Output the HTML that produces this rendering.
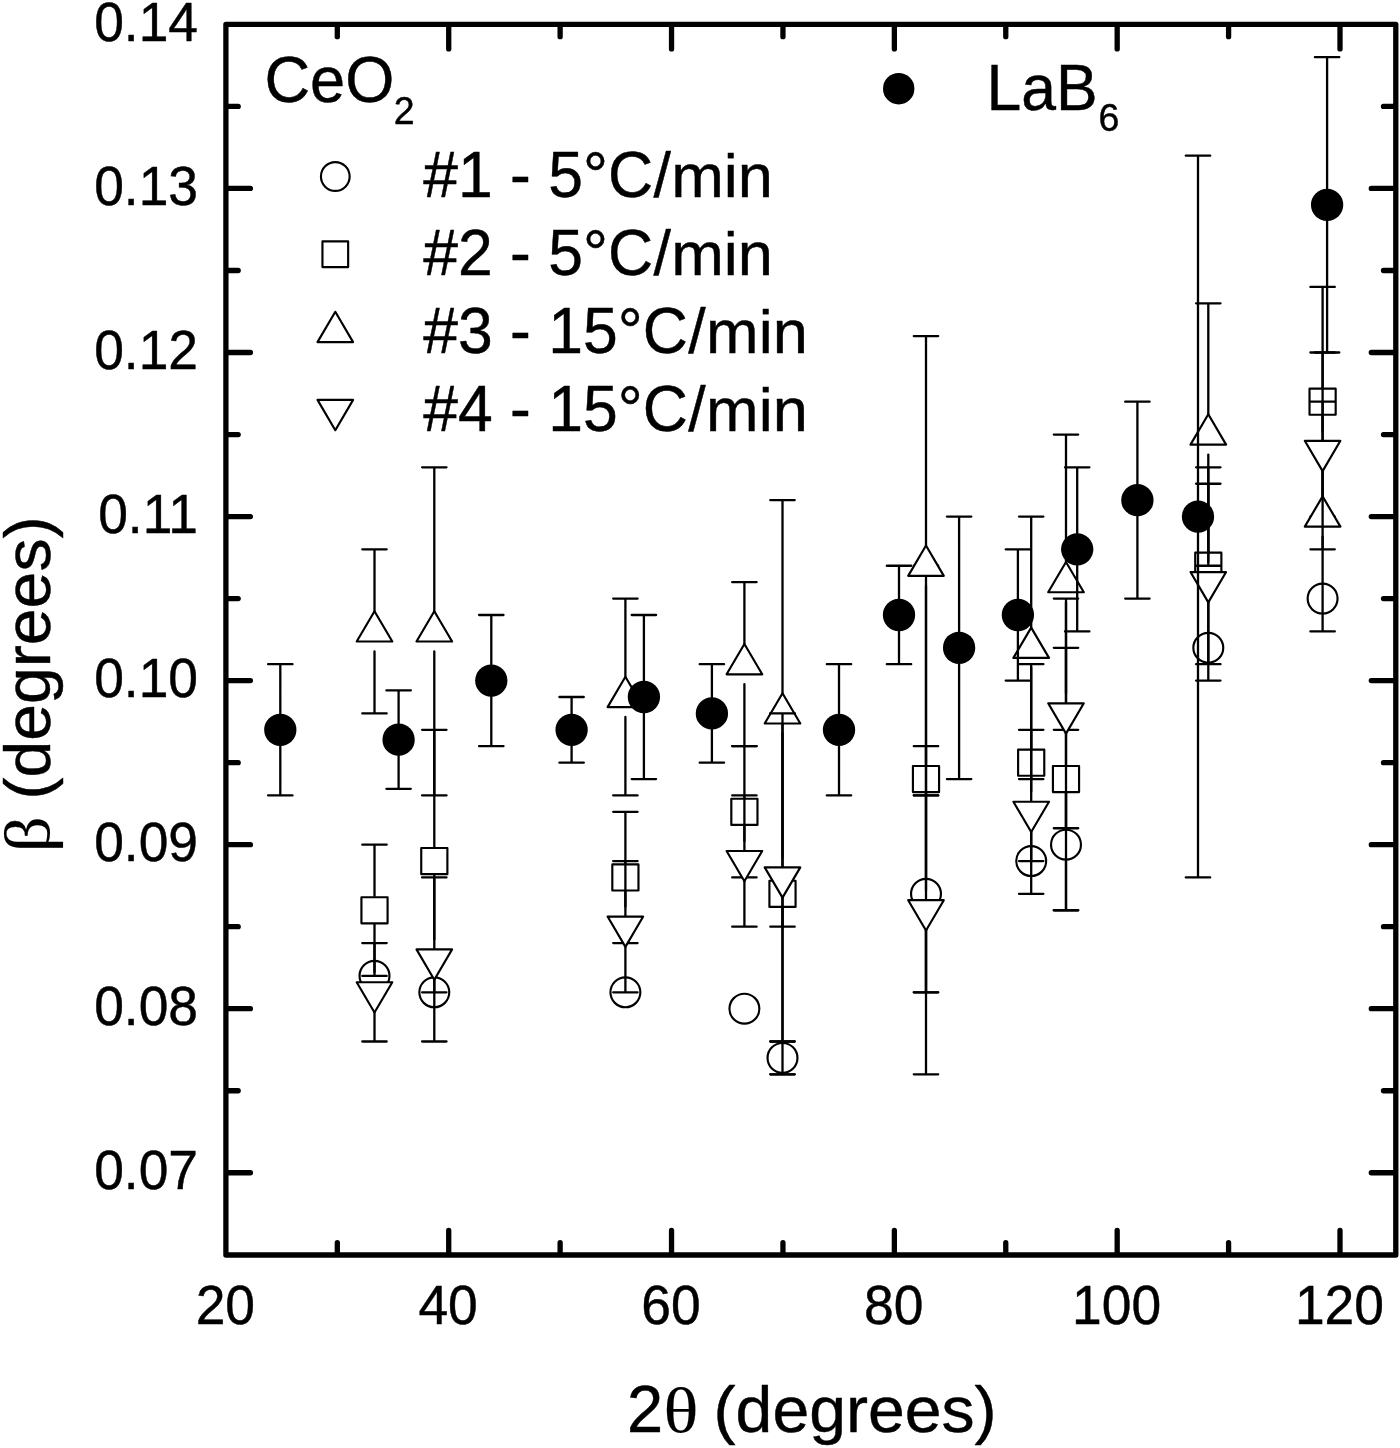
<!DOCTYPE html>
<html lang="en"><head><meta charset="utf-8"><title>FWHM vs 2theta</title>
<style>html,body{margin:0;padding:0;background:#fff}svg{display:block;filter:grayscale(1)}text{font-family:"Liberation Sans",sans-serif;fill:#000;stroke:#000;stroke-width:0.45px;stroke-linejoin:round}.sym{font-family:"Liberation Serif","DejaVu Serif",serif;stroke-width:0.15px}</style></head><body>
<svg width="1400" height="1448" viewBox="0 0 1400 1448" role="img" aria-label="FWHM versus 2-theta for CeO2 runs and LaB6 standard">
<rect x="0" y="0" width="1400" height="1448" fill="#fff"/>
<g id="run1">
<g fill="#fff" stroke="#000" stroke-width="2.15" stroke-linejoin="round"><circle cx="374.5" cy="975.89" r="14.95"/><circle cx="434.3" cy="992.3" r="14.95"/><circle cx="625.4" cy="992.3" r="14.95"/><circle cx="744.4" cy="1008.7" r="14.95"/><circle cx="782.5" cy="1057.92" r="14.95"/><circle cx="926" cy="893.87" r="14.95"/><circle cx="1031.2" cy="861.06" r="14.95"/><circle cx="1066" cy="844.65" r="14.95"/><circle cx="1208.3" cy="647.79" r="14.95"/><circle cx="1322.6" cy="598.58" r="14.95"/></g>
<path d="M782.5 1041.92V1041.51M782.5 1073.92V1074.32M770.3 1041.51H794.7M770.3 1074.32H794.7M926 877.87V795.44M926 909.87V992.3M913.8 795.44H938.2M913.8 992.3H938.2M1066 828.65V779.03M1066 860.65V910.27M1053.8 779.03H1078.2M1053.8 910.27H1078.2" fill="none" stroke="#000" stroke-width="2.3" stroke-linecap="round"/>
</g>
<g id="run2">
<g fill="#fff" stroke="#000" stroke-width="2.15" stroke-linejoin="round"><rect x="361.43" y="897.2" width="26.15" height="26.15"/><rect x="421.23" y="847.98" width="26.15" height="26.15"/><rect x="612.32" y="864.39" width="26.15" height="26.15"/><rect x="731.32" y="798.77" width="26.15" height="26.15"/><rect x="769.42" y="880.79" width="26.15" height="26.15"/><rect x="912.92" y="765.96" width="26.15" height="26.15"/><rect x="1018.12" y="749.55" width="26.15" height="26.15"/><rect x="1052.92" y="765.96" width="26.15" height="26.15"/><rect x="1195.22" y="552.69" width="26.15" height="26.15"/><rect x="1309.52" y="388.64" width="26.15" height="26.15"/></g>
<path d="M374.5 896.12V844.65M374.5 924.42V975.89M362.3 844.65H386.7M362.3 975.89H386.7M434.3 846.91V729.82M434.3 875.21V992.3M422.1 729.82H446.5M422.1 992.3H446.5M625.4 863.31V811.84M625.4 891.61V943.08M613.2 811.84H637.6M613.2 943.08H637.6M744.4 797.69V746.22M744.4 825.99V877.46M732.2 746.22H756.6M732.2 877.46H756.6M782.5 879.72V713.41M782.5 908.02V1074.32M770.3 713.41H794.7M770.3 1074.32H794.7M926 764.88V565.77M926 793.18V992.3M913.8 565.77H938.2M913.8 992.3H938.2M1031.2 748.48V664.2M1031.2 776.78V861.06M1019 664.2H1043.4M1019 861.06H1043.4M1066 764.88V647.79M1066 793.18V910.27M1053.8 647.79H1078.2M1053.8 910.27H1078.2M1208.3 551.62V467.34M1208.3 579.92V664.2M1196.1 467.34H1220.5M1196.1 664.2H1220.5M1322.6 387.57V286.88M1322.6 415.87V516.55M1310.4 286.88H1334.8M1310.4 516.55H1334.8" fill="none" stroke="#000" stroke-width="2.3" stroke-linecap="round"/>
</g>
<g id="run3">
<g fill="#fff" stroke="#000" stroke-width="2.15" stroke-linejoin="round"><path d="M374.5 611.19L392.3 641.49H356.7Z"/><path d="M434.3 611.19L452.1 641.49H416.5Z"/><path d="M625.4 676.81L643.2 707.11H607.6Z"/><path d="M744.4 644L762.2 674.3H726.6Z"/><path d="M782.5 693.21L800.3 723.51H764.7Z"/><path d="M926 545.57L943.8 575.87H908.2Z"/><path d="M1031.2 627.59L1049 657.89H1013.4Z"/><path d="M1066 561.97L1083.8 592.27H1048.2Z"/><path d="M1208.3 414.33L1226.1 444.63H1190.5Z"/><path d="M1322.6 496.35L1340.4 526.65H1304.8Z"/></g>
<path d="M374.5 611.39V549.36M374.5 651.39V713.41M362.3 549.36H386.7M362.3 713.41H386.7M434.3 611.39V467.34M434.3 651.39V795.44M422.1 467.34H446.5M422.1 795.44H446.5M625.4 677.01V598.58M625.4 717.01V795.44M613.2 598.58H637.6M613.2 795.44H637.6M744.4 644.2V582.17M744.4 684.2V746.22M732.2 582.17H756.6M732.2 746.22H756.6M782.5 693.41V500.15M782.5 733.41V926.68M770.3 500.15H794.7M770.3 926.68H794.7M926 545.77V336.1M926 585.77V795.44M913.8 336.1H938.2M913.8 795.44H938.2M1031.2 627.79V516.55M1031.2 667.79V779.03M1019 516.55H1043.4M1019 779.03H1043.4M1066 562.17V434.53M1066 602.17V729.82M1053.8 434.53H1078.2M1053.8 729.82H1078.2M1208.3 414.53V303.29M1208.3 454.53V565.76M1196.1 303.29H1220.5M1196.1 565.76H1220.5M1322.6 496.55V401.72M1322.6 536.55V631.39M1310.4 401.72H1334.8M1310.4 631.39H1334.8" fill="none" stroke="#000" stroke-width="2.3" stroke-linecap="round"/>
</g>
<g id="run4">
<g fill="#fff" stroke="#000" stroke-width="2.15" stroke-linejoin="round"><path d="M374.5 1012.5L392.3 982.2H356.7Z"/><path d="M434.3 979.69L452.1 949.39H416.5Z"/><path d="M625.4 946.88L643.2 916.58H607.6Z"/><path d="M744.4 881.26L762.2 850.96H726.6Z"/><path d="M782.5 897.66L800.3 867.36H764.7Z"/><path d="M926 930.47L943.8 900.17H908.2Z"/><path d="M1031.2 832.04L1049 801.74H1013.4Z"/><path d="M1066 733.61L1083.8 703.31H1048.2Z"/><path d="M1208.3 602.37L1226.1 572.07H1190.5Z"/><path d="M1322.6 471.13L1340.4 440.83H1304.8Z"/></g>
<path d="M374.5 972.3V943.08M374.5 1012.3V1041.51M362.3 943.08H386.7M362.3 1041.51H386.7M434.3 939.49V877.46M434.3 979.49V1041.51M422.1 877.46H446.5M422.1 1041.51H446.5M625.4 906.68V861.06M625.4 946.68V992.3M613.2 861.06H637.6M613.2 992.3H637.6M744.4 841.06V795.44M744.4 881.06V926.68M732.2 795.44H756.6M732.2 926.68H756.6M782.5 857.46V713.41M782.5 897.46V1041.51M770.3 713.41H794.7M770.3 1041.51H794.7M926 890.27V746.22M926 930.27V1074.32M913.8 746.22H938.2M913.8 1074.32H938.2M1031.2 791.84V729.82M1031.2 831.84V893.87M1019 729.82H1043.4M1019 893.87H1043.4M1066 693.41V598.58M1066 733.41V828.25M1053.8 598.58H1078.2M1053.8 828.25H1078.2M1208.3 562.17V483.74M1208.3 602.17V680.6M1196.1 483.74H1220.5M1196.1 680.6H1220.5M1322.6 430.93V352.5M1322.6 470.93V549.36M1310.4 352.5H1334.8M1310.4 549.36H1334.8" fill="none" stroke="#000" stroke-width="2.3" stroke-linecap="round"/>
</g>
<g id="lab6">
<g fill="#000"><circle cx="280.3" cy="729.82" r="16.15"/><circle cx="398.6" cy="739.66" r="16.15"/><circle cx="491.3" cy="680.6" r="16.15"/><circle cx="571.6" cy="729.82" r="16.15"/><circle cx="643.9" cy="697.01" r="16.15"/><circle cx="711.9" cy="713.41" r="16.15"/><circle cx="839" cy="729.82" r="16.15"/><circle cx="899" cy="614.98" r="16.15"/><circle cx="959.1" cy="647.79" r="16.15"/><circle cx="1017.9" cy="614.98" r="16.15"/><circle cx="1077.2" cy="549.36" r="16.15"/><circle cx="1137.4" cy="500.15" r="16.15"/><circle cx="1198" cy="516.55" r="16.15"/><circle cx="1327.1" cy="204.86" r="16.15"/></g>
<path d="M280.3 713.82V664.2M280.3 745.82V795.44M268.1 664.2H292.5M268.1 795.44H292.5M398.6 723.66V690.44M398.6 755.66V788.87M386.4 690.44H410.8M386.4 788.87H410.8M491.3 664.6V614.98M491.3 696.6V746.22M479.1 614.98H503.5M479.1 746.22H503.5M571.6 713.82V697.01M571.6 745.82V762.63M559.4 697.01H583.8M559.4 762.63H583.8M643.9 681.01V614.98M643.9 713.01V779.03M631.7 614.98H656.1M631.7 779.03H656.1M711.9 697.41V664.2M711.9 729.41V762.63M699.7 664.2H724.1M699.7 762.63H724.1M839 713.82V664.2M839 745.82V795.44M826.8 664.2H851.2M826.8 795.44H851.2M899 598.98V565.77M899 630.98V664.2M886.8 565.77H911.2M886.8 664.2H911.2M959.1 631.79V516.55M959.1 663.79V779.03M946.9 516.55H971.3M946.9 779.03H971.3M1017.9 598.98V549.36M1017.9 630.98V680.6M1005.7 549.36H1030.1M1005.7 680.6H1030.1M1077.2 533.36V467.34M1077.2 565.36V631.39M1065 467.34H1089.4M1065 631.39H1089.4M1137.4 484.15V401.72M1137.4 516.15V598.58M1125.2 401.72H1149.6M1125.2 598.58H1149.6M1198 500.55V155.64M1198 532.55V877.46M1185.8 155.64H1210.2M1185.8 877.46H1210.2M1327.1 188.86V57.21M1327.1 220.86V352.5M1314.9 57.21H1339.3M1314.9 352.5H1339.3" fill="none" stroke="#000" stroke-width="2.3" stroke-linecap="round"/>
</g>
<path d="M337.31 1254V1242.7M337.31 25.4V36.7M448.72 1254V1230.5M448.72 25.4V48.9M560.13 1254V1242.7M560.13 25.4V36.7M671.54 1254V1230.5M671.54 25.4V48.9M782.95 1254V1242.7M782.95 25.4V36.7M894.36 1254V1230.5M894.36 25.4V48.9M1005.77 1254V1242.7M1005.77 25.4V36.7M1117.18 1254V1230.5M1117.18 25.4V48.9M1228.59 1254V1242.7M1228.59 25.4V36.7M1340 1254V1230.5M1340 25.4V48.9M226.9 1172.75H250.4M1394.8 1172.75H1371.3M226.9 1090.73H238.2M1394.8 1090.73H1383.5M226.9 1008.7H250.4M1394.8 1008.7H1371.3M226.9 926.68H238.2M1394.8 926.68H1383.5M226.9 844.65H250.4M1394.8 844.65H1371.3M226.9 762.63H238.2M1394.8 762.63H1383.5M226.9 680.6H250.4M1394.8 680.6H1371.3M226.9 598.58H238.2M1394.8 598.58H1383.5M226.9 516.55H250.4M1394.8 516.55H1371.3M226.9 434.53H238.2M1394.8 434.53H1383.5M226.9 352.5H250.4M1394.8 352.5H1371.3M226.9 270.48H238.2M1394.8 270.48H1383.5M226.9 188.45H250.4M1394.8 188.45H1371.3M226.9 106.43H238.2M1394.8 106.43H1383.5" fill="none" stroke="#000" stroke-width="5.3" stroke-linecap="round"/>
<rect x="225.9" y="24.4" width="1169.9" height="1230.6" fill="none" stroke="#000" stroke-width="5.3" stroke-linejoin="round"/>
<text transform="translate(198 1189.35) scale(0.979 1.02)" font-size="54.5" text-anchor="end">0.07</text>
<text transform="translate(198 1025.3) scale(0.979 1.02)" font-size="54.5" text-anchor="end">0.08</text>
<text transform="translate(198 861.25) scale(0.979 1.02)" font-size="54.5" text-anchor="end">0.09</text>
<text transform="translate(198 697.2) scale(0.979 1.02)" font-size="54.5" text-anchor="end">0.10</text>
<text transform="translate(198 533.15) scale(0.979 1.02)" font-size="54.5" text-anchor="end">0.11</text>
<text transform="translate(198 369.1) scale(0.979 1.02)" font-size="54.5" text-anchor="end">0.12</text>
<text transform="translate(198 205.05) scale(0.979 1.02)" font-size="54.5" text-anchor="end">0.13</text>
<text transform="translate(198 41) scale(0.979 1.02)" font-size="54.5" text-anchor="end">0.14</text>
<text transform="translate(225.3 1323.7) scale(0.979 1.02)" font-size="54.5" text-anchor="middle">20</text>
<text transform="translate(448.12 1323.7) scale(0.979 1.02)" font-size="54.5" text-anchor="middle">40</text>
<text transform="translate(670.94 1323.7) scale(0.979 1.02)" font-size="54.5" text-anchor="middle">60</text>
<text transform="translate(893.76 1323.7) scale(0.979 1.02)" font-size="54.5" text-anchor="middle">80</text>
<text transform="translate(1116.58 1323.7) scale(0.979 1.02)" font-size="54.5" text-anchor="middle">100</text>
<text transform="translate(1339.4 1323.7) scale(0.979 1.02)" font-size="54.5" text-anchor="middle">120</text>
<text transform="translate(627 1432.2) scale(1.0 1.025)" font-size="65" text-anchor="start">2</text>
<text transform="translate(663.4 1431.8) scale(1.12 0.97)" font-size="65" text-anchor="start"><tspan class="sym">θ</tspan></text>
<text transform="translate(713.6 1432.2) scale(1.002 0.99)" font-size="66" text-anchor="start">(degrees)</text>
<text transform="translate(49 852.3) rotate(-90) scale(1.09 0.99)" font-size="65" text-anchor="start"><tspan class="sym">β</tspan></text>
<text transform="translate(49.5 799.5) rotate(-90) scale(1.002 0.99)" font-size="66" text-anchor="start">(degrees)</text>
<text transform="translate(264.4 102.2) scale(0.991 1.02)" font-size="63.8" text-anchor="start">CeO</text>
<text transform="translate(393.8 123.6) scale(0.979 1.02)" font-size="38.3" text-anchor="start">2</text>
<text transform="translate(986.6 109.6) scale(0.979 1.02)" font-size="63.8" text-anchor="start">LaB</text>
<text transform="translate(1098.6 131.2) scale(0.979 1.02)" font-size="38.3" text-anchor="start">6</text>
<circle cx="898.7" cy="88.7" r="15.7" fill="#000"/>
<text transform="translate(423.3 197.4) scale(0.979 1.02)" font-size="63.8" text-anchor="start">#1 - 5°C</text>
<text transform="translate(653.4 197.4) scale(0.983 0.995)" font-size="63.8" text-anchor="start">/</text>
<text transform="translate(671.2 197.4) scale(0.979 0.95)" font-size="64.5" text-anchor="start">min</text>
<text transform="translate(423.3 275) scale(0.979 1.02)" font-size="63.8" text-anchor="start">#2 - 5°C</text>
<text transform="translate(653.4 275) scale(0.983 0.995)" font-size="63.8" text-anchor="start">/</text>
<text transform="translate(671.2 275) scale(0.979 0.95)" font-size="64.5" text-anchor="start">min</text>
<text transform="translate(423.3 352.5) scale(0.979 1.02)" font-size="63.8" text-anchor="start">#3 - 15°C</text>
<text transform="translate(688.3 352.5) scale(0.983 0.995)" font-size="63.8" text-anchor="start">/</text>
<text transform="translate(706.1 352.5) scale(0.979 0.95)" font-size="64.5" text-anchor="start">min</text>
<text transform="translate(423.3 431) scale(0.979 1.02)" font-size="63.8" text-anchor="start">#4 - 15°C</text>
<text transform="translate(688.3 431) scale(0.983 0.995)" font-size="63.8" text-anchor="start">/</text>
<text transform="translate(706.1 431) scale(0.979 0.95)" font-size="64.5" text-anchor="start">min</text>
<g fill="#fff" stroke="#000" stroke-width="2.15" stroke-linejoin="round">
<circle cx="335.3" cy="176.5" r="14.35"/>
<rect x="322.45" y="241.4" width="25.7" height="25.7"/>
<path d="M335.3 311.8L353.1 342.1H317.5Z"/>
<path d="M335.3 430.2L353.1 399.9H317.5Z"/>
</g>
</svg></body></html>
